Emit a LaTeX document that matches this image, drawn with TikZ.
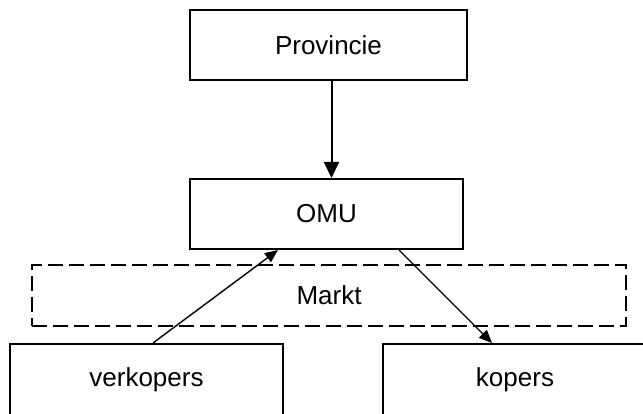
\documentclass[tikz,border=0pt]{standalone}
\usepackage{fontspec}
\setmainfont{Liberation Sans}
\usetikzlibrary{arrows.meta,positioning}

\begin{document}
\begin{tikzpicture}[x=1pt,y=-1pt,
  box/.style={draw,line width=2pt,font=\fontsize{26}{30}\selectfont},
  marktbox/.style={draw,line width=2pt,dash pattern=on 15pt off 6pt,font=\fontsize{26}{30}\selectfont},
  pijl/.style={-{Triangle[length=16pt,width=15pt]},line width=2pt},
  dunpijl/.style={-{Triangle[length=13pt,width=11pt]},line width=1.4pt}]
\clip (0,0) rectangle (643,414);
% bovenste twee dozen
\node[box,minimum width=277pt,minimum height=70pt] (prov) at (328.5,45) {Provincie};
\node[box,minimum width=273pt,minimum height=70pt] (omu) at (326.5,214) {OMU};
% markt
\node[marktbox,minimum width=594pt,minimum height=61pt] (markt) at (329,295.5) {Markt};
% onderste dozen
\node[box,minimum width=273pt,minimum height=72pt] (verk) at (146.5,380) {verkopers};
\node[box,minimum width=264pt,minimum height=72pt] (kop) at (515,380) {kopers};
% pijlen
\draw[pijl] ([xshift=3pt]prov.south) -- ([xshift=3pt]prov.south |- omu.north);
\draw[dunpijl] ([xshift=6.5pt]verk.north) -- ([xshift=-48.5pt]omu.south);
\draw[dunpijl] ([xshift=72.5pt]omu.south) -- ([xshift=-23pt]kop.north);
\end{tikzpicture}
\end{document}
